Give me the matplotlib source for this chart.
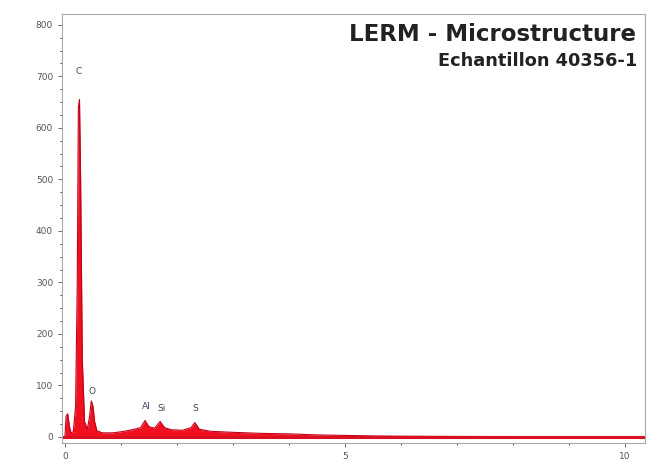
import numpy as np
import matplotlib.pyplot as plt

# EDS spectrum, energy (keV) and counts
energy = [0.00, 0.02, 0.05, 0.08, 0.11, 0.15, 0.19, 0.22, 0.24, 0.26, 0.28, 0.31,
          0.35, 0.40, 0.44, 0.47, 0.50, 0.53, 0.57, 0.67, 0.85, 1.00, 1.20, 1.35,
          1.43, 1.50, 1.60, 1.70, 1.78, 1.90, 2.10, 2.25, 2.32, 2.40, 2.60, 3.00,
          3.50, 4.00, 4.50, 5.00, 5.50, 6.00, 7.00, 8.00, 9.00, 10.0, 10.3]
counts = [0, 40, 45, 20, 8, 10, 60, 300, 640, 655, 500, 150,
          30, 15, 40, 70, 60, 30, 12, 8, 8, 10, 14, 18,
          32, 20, 17, 30, 18, 14, 13, 18, 28, 15, 11, 9,
          7, 6, 4, 3, 2, 1.5, 1, 0.8, 0.5, 0.3, 0.3]

peak_labels = ["C", "O", "Al", "Si", "S"]
peak_x = [0.25, 0.48, 1.46, 1.72, 2.32]
peak_y = [700, 80, 50, 46, 46]

xticks = [0, 5, 10]
yticks = list(range(0, 900, 100))

fig = plt.figure(figsize=(6.61, 4.65), dpi=100)
ax = fig.add_axes([0.094, 0.047, 0.882, 0.923])

ax.fill_between(energy, counts, 0, color="#f01020", lw=0)
ax.plot(energy, counts, color="#c00018", lw=0.8)
ax.axhline(0, color="#d81020", lw=2.2)

for lab, x, y in zip(peak_labels, peak_x, peak_y):
    ax.text(x, y, lab, fontsize=6.5, color="#404060", ha="center", va="bottom")

ax.set_xlim(-0.05, 10.36)
ax.set_ylim(-12, 821)
ax.set_xticks(xticks)
ax.set_yticks(yticks)
ax.set_xticks(np.arange(0, 10.5, 1), minor=True)
ax.set_yticks(np.arange(0, 825, 25), minor=True)
ax.tick_params(labelsize=6.5, colors="#555555", length=3, width=0.6)
ax.tick_params(which="minor", length=1.5, width=0.5)
for s in ax.spines.values():
    s.set_color("#aaaaaa")
    s.set_linewidth(0.8)

ax.text(0.985, 0.979, "LERM - Microstructure", transform=ax.transAxes,
        ha="right", va="top", fontsize=16.5, fontweight="bold",
        family="DejaVu Sans", color="#222222")
ax.text(0.987, 0.911, "Echantillon 40356-1", transform=ax.transAxes,
        ha="right", va="top", fontsize=12.8, fontweight="bold",
        family="DejaVu Sans", color="#222222")

plt.savefig("out.png", dpi=100)
